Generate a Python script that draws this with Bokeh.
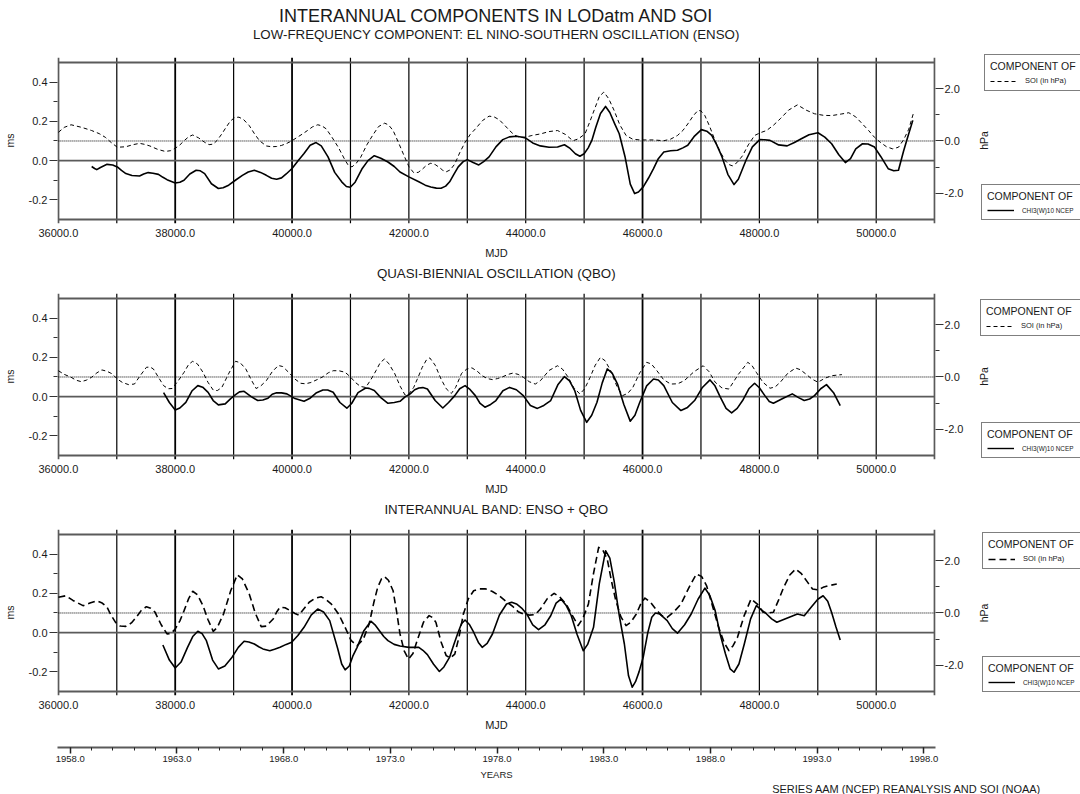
import math
from bokeh.plotting import figure
from bokeh.models import (Range1d, LinearAxis, FixedTicker, PrintfTickFormatter,
                          Label, Legend, LegendItem, ColumnDataSource, Title)
from bokeh.layouts import column, row
from bokeh.embed import file_html
from bokeh.resources import INLINE

FONT = "Liberation Sans"

# ---------------- data ----------------
# Panel 1 : ENSO component  (LOD in ms, SOI in hPa)
ENSO_LOD_MJD = [36570, 36620, 36657, 36720, 36833, 36930, 37009, 37080, 37155, 37260,
                37390, 37460, 37537, 37620, 37713, 37790, 37860, 38000, 38080, 38150,
                38250, 38358, 38430, 38504, 38620, 38739, 38820, 38915, 39030, 39150,
                39250, 39355, 39460, 39560, 39650, 39736, 39820, 39900, 40000, 40100,
                40205, 40310, 40411, 40500, 40616, 40730, 40850, 40930, 40997, 41080,
                41202, 41300, 41408, 41520, 41642, 41750, 41848, 42000, 42170, 42280,
                42375, 42470, 42551, 42630, 42698, 42770, 42845, 42930, 43000, 43100,
                43197, 43280, 43373, 43490, 43607, 43720, 43842, 43920, 44000, 44120,
                44250, 44400, 44545, 44610, 44663, 44760, 44850, 44927, 45000, 45070,
                45132, 45200, 45280, 45367, 45440, 45520, 45601, 45700, 45790, 45865,
                45930, 46012, 46100, 46188, 46270, 46364, 46480, 46598, 46690, 46774,
                46890, 47008, 47100, 47185, 47270, 47361, 47460, 47566, 47640, 47771,
                47880, 48006, 48090, 48182, 48330, 48475, 48600, 48710, 48850, 49003,
                49120, 49237, 49360, 49472, 49560, 49650, 49765, 49860, 49971, 50080,
                50205, 50300, 50381, 50470, 50550, 50627]
ENSO_LOD_MS = [-0.030, -0.040, -0.046, -0.035, -0.019, -0.022, -0.032, -0.050, -0.066, -0.076,
               -0.078, -0.068, -0.061, -0.064, -0.070, -0.085, -0.097, -0.114, -0.110, -0.100,
               -0.068, -0.049, -0.052, -0.066, -0.118, -0.142, -0.138, -0.125, -0.100, -0.075,
               -0.058, -0.049, -0.060, -0.075, -0.090, -0.095, -0.088, -0.068, -0.040, -0.002,
               0.036, 0.078, 0.092, 0.075, 0.019, -0.060, -0.108, -0.132, -0.136, -0.110,
               -0.040, 0.000, 0.025, 0.012, -0.007, -0.030, -0.058, -0.083, -0.108, -0.125,
               -0.134, -0.140, -0.141, -0.130, -0.108, -0.070, -0.032, -0.005, 0.005, -0.010,
               -0.022, -0.005, 0.019, 0.070, 0.107, 0.121, 0.124, 0.120, 0.115, 0.090,
               0.075, 0.068, 0.069, 0.076, 0.081, 0.062, 0.035, 0.022, 0.035, 0.065,
               0.103, 0.170, 0.240, 0.276, 0.245, 0.190, 0.137, 0.020, -0.120, -0.168,
               -0.160, -0.134, -0.090, -0.041, 0.010, 0.044, 0.050, 0.053, 0.065, 0.078,
               0.125, 0.158, 0.150, 0.129, 0.080, 0.019, -0.070, -0.122, -0.095, 0.002,
               0.070, 0.107, 0.106, 0.103, 0.080, 0.075, 0.092, 0.110, 0.132, 0.142,
               0.120, 0.086, 0.030, -0.010, 0.010, 0.060, 0.086, 0.085, 0.069, 0.020,
               -0.041, -0.052, -0.049, 0.050, 0.130, 0.205]
ENSO_SOI_MJD = [36000, 36100, 36217, 36400, 36569, 36700, 36804, 36900, 37009, 37155,
                37280, 37390, 37480, 37566, 37700, 37830, 37920, 38000, 38080, 38152,
                38230, 38299, 38400, 38504, 38580, 38651, 38720, 38798, 38870, 38944,
                39020, 39091, 39170, 39267, 39350, 39443, 39560, 39650, 39736, 39820,
                39912, 40000, 40088, 40180, 40264, 40350, 40440, 40510, 40587, 40690,
                40792, 40900, 40960, 41026, 41100, 41173, 41280, 41378, 41480, 41584,
                41650, 41730, 41820, 41906, 42000, 42082, 42160, 42229, 42300, 42375,
                42450, 42522, 42580, 42639, 42710, 42786, 42870, 42962, 43050, 43138,
                43260, 43373, 43460, 43548, 43640, 43724, 43810, 43900, 44000, 44106,
                44252, 44400, 44545, 44680, 44809, 44900, 45015, 45100, 45191, 45260,
                45337, 45420, 45513, 45610, 45718, 45830, 45953, 46188, 46364, 46480,
                46598, 46690, 46774, 46870, 46950, 47000, 47067, 47150, 47243, 47330,
                47419, 47480, 47537, 47620, 47713, 47810, 47918, 48020, 48123, 48240,
                48358, 48500, 48651, 48800, 48944, 49100, 49237, 49400, 49531, 49650,
                49765, 49870, 49971, 50070, 50176, 50280, 50381, 50470, 50557, 50637]
ENSO_SOI_HPA = [0.33, 0.52, 0.62, 0.52, 0.40, 0.28, 0.14, -0.05, -0.24, -0.22,
                -0.14, -0.09, -0.13, -0.19, -0.32, -0.40, -0.37, -0.28, -0.15, 0.01,
                0.16, 0.23, 0.12, -0.05, -0.14, -0.12, 0.03, 0.27, 0.52, 0.76,
                0.90, 0.91, 0.82, 0.59, 0.30, 0.01, -0.19, -0.22, -0.21, -0.17,
                -0.09, 0.01, 0.14, 0.27, 0.40, 0.54, 0.62, 0.58, 0.46, 0.12,
                -0.24, -0.70, -0.92, -0.99, -0.85, -0.63, -0.15, 0.21, 0.55, 0.68,
                0.62, 0.40, -0.05, -0.50, -0.98, -1.21, -1.20, -1.08, -0.93, -0.85,
                -0.90, -1.01, -1.12, -1.18, -1.10, -0.88, -0.45, -0.05, 0.25, 0.46,
                0.78, 0.95, 0.92, 0.81, 0.60, 0.40, 0.22, 0.14, 0.15, 0.21,
                0.27, 0.36, 0.40, 0.25, 0.01, 0.08, 0.27, 0.75, 1.29, 1.70,
                1.87, 1.62, 1.17, 0.62, 0.21, 0.07, 0.04, 0.04, 0.01, 0.07,
                0.21, 0.40, 0.65, 0.97, 1.17, 1.15, 0.97, 0.55, 0.01, -0.42,
                -0.76, -0.90, -0.95, -0.82, -0.56, -0.15, 0.21, 0.32, 0.40, 0.60,
                0.85, 1.18, 1.38, 1.18, 1.04, 0.98, 0.97, 1.03, 1.08, 0.92,
                0.65, 0.40, 0.14, -0.05, -0.22, -0.30, -0.24, 0.05, 0.45, 1.06]

# Panel 2 : QBO component
QBO_LOD_MJD = [37801, 37900, 38000, 38080, 38182, 38290, 38387, 38470, 38563, 38650,
               38739, 38856, 38950, 39033, 39100, 39179, 39300, 39413, 39500, 39589,
               39660, 39736, 39820, 39912, 40050, 40205, 40300, 40420, 40528, 40610,
               40704, 40820, 40938, 41020, 41130, 41261, 41320, 41408, 41520, 41642,
               41750, 41848, 41940, 42023, 42100, 42170, 42240, 42317, 42450, 42581,
               42680, 42786, 42870, 42962, 43050, 43138, 43220, 43302, 43400, 43490,
               43610, 43724, 43840, 43959, 44080, 44200, 44310, 44428, 44550, 44663,
               44750, 44839, 44940, 45044, 45130, 45220, 45310, 45396, 45480, 45572,
               45680, 45789, 45870, 45953, 46070, 46188, 46270, 46364, 46510, 46657,
               46770, 46891, 47020, 47155, 47240, 47331, 47430, 47525, 47620, 47713,
               47820, 47918, 48000, 48094, 48170, 48240, 48400, 48563, 48670, 48768,
               48860, 48944, 49050, 49149, 49270, 49384]
QBO_LOD_MS = [0.020, -0.030, -0.068, -0.058, -0.029, 0.030, 0.056, 0.048, 0.022, -0.020,
              -0.042, -0.037, -0.010, 0.010, 0.024, 0.027, 0.000, -0.020, -0.017, -0.008,
              0.012, 0.020, 0.019, 0.014, -0.010, -0.024, -0.010, 0.020, 0.034, 0.034,
              0.022, -0.030, -0.059, -0.035, 0.020, 0.044, 0.042, 0.031, -0.005, -0.034,
              -0.030, -0.024, 0.000, 0.014, 0.035, 0.044, 0.046, 0.039, -0.020, -0.058,
              -0.030, 0.005, 0.040, 0.056, 0.035, 0.005, -0.035, -0.054, -0.040, -0.020,
              0.030, 0.047, 0.035, 0.005, -0.045, -0.060, -0.045, -0.020, 0.060, 0.102,
              0.080, 0.031, -0.070, -0.131, -0.095, -0.029, 0.070, 0.141, 0.120, 0.064,
              -0.040, -0.125, -0.095, -0.029, 0.055, 0.090, 0.085, 0.056, -0.030, -0.071,
              -0.055, -0.020, 0.045, 0.085, 0.055, -0.003, -0.060, -0.083, -0.060, -0.020,
              0.040, 0.068, 0.045, 0.005, -0.025, -0.034, -0.010, 0.014, -0.005, -0.020,
              -0.012, 0.005, 0.040, 0.061, 0.020, -0.046]
QBO_SOI_MJD = [36000, 36100, 36217, 36300, 36393, 36480, 36569, 36660, 36745, 36830,
               36921, 37010, 37097, 37200, 37302, 37400, 37507, 37570, 37625, 37710,
               37801, 37880, 37947, 38050, 38152, 38230, 38299, 38380, 38475, 38560,
               38651, 38720, 38798, 38920, 39033, 39110, 39208, 39300, 39384, 39460,
               39560, 39660, 39765, 39840, 39941, 40050, 40147, 40230, 40323, 40430,
               40528, 40620, 40704, 40800, 40909, 41000, 41085, 41170, 41261, 41350,
               41437, 41510, 41584, 41660, 41760, 41850, 41935, 42000, 42082, 42160,
               42229, 42300, 42358, 42450, 42551, 42640, 42727, 42800, 42903, 42990,
               43079, 43170, 43255, 43340, 43431, 43520, 43607, 43700, 43783, 43870,
               43959, 44060, 44164, 44252, 44400, 44545, 44630, 44721, 44820, 44927,
               45010, 45103, 45190, 45279, 45360, 45455, 45560, 45660, 45750, 45836,
               45950, 46070, 46150, 46246, 46360, 46481, 46600, 46715, 46880, 47038,
               47140, 47243, 47360, 47478, 47640, 47801, 47870, 47947, 48060, 48182,
               48270, 48358, 48490, 48622, 48700, 48798, 48900, 49003, 49120, 49237,
               49413]
QBO_SOI_HPA = [0.24, 0.10, -0.01, -0.12, -0.18, -0.12, -0.01, 0.16, 0.27, 0.22,
               0.12, -0.08, -0.21, -0.29, -0.27, 0.05, 0.37, 0.38, 0.31, 0.00,
               -0.33, -0.45, -0.44, -0.15, 0.18, 0.48, 0.60, 0.50, 0.18, -0.20,
               -0.50, -0.52, -0.40, 0.15, 0.60, 0.55, 0.31, -0.10, -0.44, -0.35,
               -0.14, 0.20, 0.44, 0.40, 0.18, -0.08, -0.24, -0.26, -0.21, -0.10,
               0.01, 0.16, 0.24, 0.24, 0.18, 0.00, -0.21, -0.36, -0.40, -0.10,
               0.24, 0.55, 0.69, 0.50, 0.12, -0.35, -0.69, -0.65, -0.40, 0.00,
               0.37, 0.65, 0.73, 0.45, -0.08, -0.45, -0.63, -0.40, 0.14, 0.30,
               0.35, 0.22, 0.05, -0.06, -0.10, -0.06, 0.01, 0.10, 0.15, 0.10,
               -0.01, -0.18, -0.27, -0.14, 0.25, 0.43, 0.30, 0.01, -0.40, -0.65,
               -0.45, -0.01, 0.45, 0.75, 0.62, 0.24, -0.35, -0.71, -0.62, -0.39,
               0.15, 0.56, 0.50, 0.24, -0.10, -0.27, -0.26, -0.14, 0.20, 0.43,
               0.20, -0.20, -0.42, -0.46, 0.10, 0.56, 0.45, 0.18, -0.20, -0.43,
               -0.38, -0.20, 0.15, 0.34, 0.28, 0.11, -0.08, -0.20, -0.05, 0.05,
               0.09]

# Panel 3 : interannual band (ENSO + QBO)
BAND_LOD_MJD = [37789, 37900, 38000, 38100, 38211, 38300, 38387, 38460, 38534, 38640,
                38739, 38850, 38974, 39080, 39179, 39260, 39355, 39430, 39501, 39619,
                39700, 39795, 39900, 39994, 40100, 40205, 40330, 40440, 40540, 40645,
                40780, 40850, 40909, 40980, 41040, 41114, 41230, 41349, 41420, 41496,
                41570, 41642, 41748, 41848, 42000, 42100, 42170, 42240, 42317, 42420,
                42522, 42600, 42698, 42770, 42833, 42900, 42962, 43040, 43109, 43190,
                43255, 43340, 43431, 43550, 43672, 43760, 43842, 43930, 44018, 44120,
                44220, 44330, 44428, 44520, 44604, 44690, 44780, 44880, 44985, 45060,
                45161, 45260, 45367, 45440, 45513, 45600, 45689, 45760, 45824, 45880,
                45940, 46012, 46090, 46158, 46220, 46293, 46350, 46422, 46510, 46598,
                46720, 46833, 46950, 47067, 47150, 47243, 47330, 47419, 47500, 47566,
                47650, 47742, 47850, 47947, 48040, 48123, 48210, 48299, 48480, 48651,
                48768, 48886, 49000, 49091, 49170, 49237, 49310, 49384]
BAND_LOD_MS = [-0.063, -0.140, -0.180, -0.150, -0.075, -0.020, 0.007, -0.005, -0.041, -0.140,
               -0.185, -0.170, -0.125, -0.075, -0.044, -0.048, -0.058, -0.072, -0.083, -0.092,
               -0.085, -0.075, -0.060, -0.049, -0.015, 0.027, 0.090, 0.120, 0.105, 0.061,
               -0.080, -0.160, -0.190, -0.170, -0.120, -0.075, 0.010, 0.058, 0.040, 0.010,
               -0.020, -0.041, -0.060, -0.068, -0.075, -0.075, -0.075, -0.090, -0.112, -0.160,
               -0.198, -0.175, -0.125, -0.060, -0.007, 0.045, 0.064, 0.040, 0.002, -0.050,
               -0.075, -0.055, -0.007, 0.090, 0.146, 0.155, 0.146, 0.125, 0.095, 0.040,
               0.015, 0.040, 0.086, 0.150, 0.171, 0.140, 0.086, -0.010, -0.092, -0.060,
               0.027, 0.250, 0.417, 0.380, 0.264, 0.090, -0.058, -0.220, -0.278, -0.250,
               -0.200, -0.125, 0.000, 0.078, 0.100, 0.095, 0.080, 0.061, 0.020, -0.003,
               0.040, 0.095, 0.170, 0.227, 0.190, 0.112, -0.010, -0.108, -0.185, -0.202,
               -0.160, -0.058, 0.070, 0.137, 0.115, 0.095, 0.070, 0.053, 0.075, 0.095,
               0.086, 0.129, 0.170, 0.188, 0.160, 0.103, 0.030, -0.037]
BAND_SOI_MJD = [36000, 36129, 36250, 36422, 36540, 36657, 36750, 36833, 36900, 36979,
                37060, 37155, 37250, 37331, 37420, 37507, 37580, 37654, 37760, 37860,
                37930, 38000, 38080, 38152, 38230, 38299, 38380, 38475, 38560, 38651,
                38720, 38827, 38950, 39062, 39150, 39267, 39370, 39472, 39560, 39677,
                39740, 39795, 39880, 39970, 40050, 40117, 40200, 40293, 40400, 40498,
                40580, 40674, 40800, 40909, 41010, 41114, 41220, 41320, 41400, 41466,
                41530, 41584, 41650, 41730, 41790, 41848, 41920, 41994, 42070, 42141,
                42250, 42346, 42410, 42463, 42550, 42639, 42710, 42786, 42860, 42933,
                43020, 43109, 43200, 43314, 43430, 43548, 43660, 43783, 43870, 43959,
                44060, 44164, 44252, 44370, 44487, 44580, 44692, 44800, 44897, 44980,
                45073, 45160, 45249, 45320, 45396, 45470, 45543, 45630, 45718, 45800,
                45894, 45970, 46041, 46140, 46246, 46330, 46422, 46540, 46657, 46790,
                46921, 47010, 47097, 47200, 47302, 47400, 47478, 47550, 47625, 47740,
                47859, 47960, 48064, 48150, 48240, 48330, 48416, 48520, 48622, 48720,
                48827, 48910, 49003, 49090, 49179, 49325]
BAND_SOI_HPA = [0.60, 0.66, 0.48, 0.28, 0.38, 0.47, 0.38, 0.22, -0.08, -0.36,
                -0.50, -0.51, -0.38, -0.17, 0.10, 0.24, 0.18, 0.03, -0.45, -0.80,
                -0.78, -0.61, -0.30, 0.09, 0.55, 0.83, 0.70, 0.28, -0.25, -0.70,
                -0.55, -0.04, 0.85, 1.46, 1.30, 0.73, 0.00, -0.52, -0.50, -0.23,
                0.05, 0.22, 0.20, 0.09, -0.02, -0.08, 0.15, 0.41, 0.57, 0.62,
                0.52, 0.34, -0.05, -0.55, -1.05, -1.25, -1.00, -0.42, 0.40, 0.98,
                1.30, 1.39, 1.25, 0.85, 0.05, -0.80, -1.45, -1.76, -1.55, -1.06,
                -0.35, -0.10, -0.18, -0.36, -1.10, -1.63, -1.72, -1.57, -0.90, -0.04,
                0.55, 0.85, 0.92, 0.92, 0.82, 0.66, 0.45, 0.24, 0.05, -0.04,
                -0.08, -0.06, 0.15, 0.55, 0.75, 0.62, 0.34, -0.10, -0.48, -0.20,
                0.34, 1.50, 2.51, 2.40, 2.06, 1.20, 0.47, -0.15, -0.48, -0.35,
                -0.04, 0.35, 0.57, 0.40, 0.09, -0.10, -0.17, 0.05, 0.34, 0.95,
                1.49, 1.40, 1.04, 0.25, -0.55, -1.15, -1.44, -1.25, -0.93, -0.10,
                0.54, 0.35, 0.03, 0.00, 0.03, 0.50, 0.98, 1.45, 1.68, 1.50,
                1.17, 0.92, 0.88, 0.98, 1.04, 1.11]

# ---------------- axes / ticks ----------------
MJD_TICKS = [36000, 38000, 40000, 42000, 44000, 46000, 48000, 50000]
GRID_MJD = [37000, 38000, 39000, 40000, 41000, 42000, 43000, 44000, 45000,
            46000, 47000, 48000, 49000, 50000]
GRID_WIDTH = [1.2, 1.8, 1.2, 1.8, 1.2, 1.2, 1.2, 1.2, 1.2, 1.8, 1.2, 1.2, 1.2, 1.2]
FRAME_MJD = [36000, 51000]
MS_TICKS = [-0.2, 0.0, 0.2, 0.4]
MS_MINOR = [-0.1, 0.1, 0.3]
HPA_TICKS = [-2.0, 0.0, 2.0]
HPA_MINOR = [-1.0, 1.0]
YEAR_TICKS = [1958, 1963, 1968, 1973, 1978, 1983, 1988, 1993, 1998]
YEAR_MINOR = list(range(1958, 1999))

MS_TOP, MS_BOTTOM = 0.5, -0.3          # framed ms interval (= +3 / -3 hPa)
HPA_TOP, HPA_BOTTOM = 3.0, -3.0
X_LO, X_HI = 35985, 51015
Y_LO, Y_HI = -0.3204, 0.5254
MS_PER_HPA = (MS_TOP - MS_BOTTOM) / (HPA_TOP - HPA_BOTTOM)
MS_AT_HPA0 = MS_BOTTOM - HPA_BOTTOM * MS_PER_HPA
HPA_LO = (Y_LO - MS_AT_HPA0) / MS_PER_HPA
HPA_HI = (Y_HI - MS_AT_HPA0) / MS_PER_HPA

FW, FH = 878, 166
PW = 966            # width of each panel figure (frame + axes)
LW = 1080 - PW      # width of the legend strip at the right
TXT = "#1a1a1a"
GRAY = "#5a5a5a"


def blank(width, height):
    return figure(width=width, height=height, x_range=Range1d(0, 1), y_range=Range1d(0, 1),
                  min_border_left=0, min_border_right=0, min_border_top=0, min_border_bottom=0,
                  x_axis_type=None, y_axis_type=None, toolbar_location=None,
                  output_backend="svg", outline_line_color=None, frame_align=False,
                  background_fill_color="white", border_fill_color="white")


def title_strip(height, items):
    f = blank(1080, height)
    for text, size, cy in items:
        f.add_layout(Label(x=57 + FW / 2, y=height - cy, x_units="screen", y_units="screen",
                           text=text, text_align="center", text_baseline="middle",
                           text_font=FONT, text_font_size=size, text_color=TXT))
    return f


def make_panel(lod_x, lod_y, soi_x, soi_y, soi_dash, soi_w, top):
    p = figure(frame_width=FW, frame_height=FH,
               x_range=Range1d(X_LO, X_HI), y_range=Range1d(Y_LO, Y_HI),
               min_border_left=57, min_border_right=PW - 57 - FW,
               min_border_top=top, min_border_bottom=39,
               x_axis_type=None, y_axis_type=None,
               toolbar_location=None, output_backend="svg",
               outline_line_color=None, background_fill_color="white",
               border_fill_color="white")
    p.extra_y_ranges = {"hpa": Range1d(HPA_LO, HPA_HI)}

    gsrc = ColumnDataSource(dict(x=GRID_MJD, w=GRID_WIDTH))
    p.segment(x0="x", y0=Y_LO, x1="x", y1=Y_HI, source=gsrc,
              line_color="black", line_width="w")
    p.segment(x0=FRAME_MJD, y0=Y_LO, x1=FRAME_MJD, y1=Y_HI,
              line_color=GRAY, line_width=2)
    p.segment(x0=FRAME_MJD[0], y0=[MS_TOP, MS_BOTTOM], x1=FRAME_MJD[1],
              y1=[MS_TOP, MS_BOTTOM], line_color=GRAY, line_width=2)
    p.segment(x0=FRAME_MJD[0], y0=0.0, x1=FRAME_MJD[1], y1=0.0,
              line_color=GRAY, line_width=1.6)
    p.segment(x0=FRAME_MJD[0], y0=0.0, x1=FRAME_MJD[1], y1=0.0,
              line_color="black", line_width=1, line_dash="1 1",
              y_range_name="hpa")

    p.line(soi_x, soi_y, line_color="black", line_width=soi_w,
           line_dash=soi_dash, y_range_name="hpa", line_join="round")
    p.line(lod_x, lod_y, line_color="black", line_width=1.6, line_join="round")

    la = LinearAxis(ticker=FixedTicker(ticks=MS_TICKS, minor_ticks=MS_MINOR),
                    formatter=PrintfTickFormatter(format="%.1f"), axis_label="ms")
    ra = LinearAxis(y_range_name="hpa",
                    ticker=FixedTicker(ticks=HPA_TICKS, minor_ticks=HPA_MINOR),
                    formatter=PrintfTickFormatter(format="%.1f"))
    for ax, st in ((la, 2), (ra, 1)):
        ax.axis_line_color = None
        ax.major_tick_out = 8
        ax.major_tick_in = 0
        ax.minor_tick_out = 4
        ax.minor_tick_in = 0
        ax.major_tick_line_color = "#333333"
        ax.minor_tick_line_color = "#333333"
        ax.major_label_standoff = st
        ax.major_label_text_font = FONT
        ax.major_label_text_font_size = "11px"
        ax.major_label_text_color = TXT
    la.axis_label_standoff = 10
    la.axis_label_text_font = FONT
    la.axis_label_text_font_size = "10.5px"
    la.axis_label_text_font_style = "normal"
    la.axis_label_text_color = TXT
    p.add_layout(la, "left")
    p.add_layout(ra, "right")

    ba = LinearAxis(ticker=FixedTicker(ticks=MJD_TICKS),
                    formatter=PrintfTickFormatter(format="%.1f"), axis_label="MJD")
    ba.axis_line_color = None
    ba.major_tick_out = 0
    ba.major_tick_in = 0
    ba.minor_tick_out = 0
    ba.minor_tick_in = 0
    ba.major_tick_line_color = None
    ba.minor_tick_line_color = None
    ba.major_label_standoff = 5
    ba.major_label_text_font = FONT
    ba.major_label_text_font_size = "11px"
    ba.major_label_text_color = TXT
    ba.axis_label_standoff = 7
    ba.axis_label_text_font = FONT
    ba.axis_label_text_font_size = "11px"
    ba.axis_label_text_font_style = "normal"
    ba.axis_label_text_color = TXT
    p.add_layout(ba, "below")
    return p


def legend_strip(height, soi_dash, soi_w, loc_soi, loc_lod, hpa_y):
    f = blank(LW, height)
    # one-point lines outside the strip's view: they only supply the legend glyph style
    soi_r = f.line(x=[-1], y=[-1], line_color="black", line_width=soi_w, line_dash=soi_dash)
    lod_r = f.line(x=[-1], y=[-1], line_color="black", line_width=1.4)
    for (vx, vy), lab, rend, lsize in ((loc_soi, "SOI (in hPa)", soi_r, "7.5px"),
                                       (loc_lod, "CHI3(W)10 NCEP", lod_r, "6.4px")):
        lg = Legend(items=[LegendItem(label=lab, renderers=[rend])],
                    title="COMPONENT OF", location=(vx, vy),
                    border_line_color="black", border_line_width=1,
                    background_fill_color="white", background_fill_alpha=1.0,
                    padding=5, margin=0, spacing=0,
                    title_standoff=4, title_text_font=FONT,
                    title_text_font_size="10.5px", title_text_color=TXT,
                    title_text_font_style="normal",
                    label_text_font=FONT, label_text_font_size=lsize,
                    label_text_color=TXT, label_standoff=8, label_height=8,
                    glyph_width=27, glyph_height=8, label_width=110)
        f.add_layout(lg)
    f.add_layout(Label(x=983 - PW, y=hpa_y, x_units="screen", y_units="screen",
                       text="hPa", angle=math.pi / 2, text_align="center",
                       text_baseline="middle", text_font=FONT,
                       text_font_size="10.5px", text_color=TXT))
    return f


t1 = title_strip(54, [("INTERANNUAL COMPONENTS IN LODatm AND SOI", "18px", 15),
                      ("LOW-FREQUENCY COMPONENT: EL NINO-SOUTHERN OSCILLATION (ENSO)", "13.3px", 34.3)])
p1 = make_panel(ENSO_LOD_MJD, ENSO_LOD_MS, ENSO_SOI_MJD, ENSO_SOI_HPA, "4 3", 1.0, 3)
l1 = legend_strip(208, "4 3", 1.0, (18, 171), (15, 42), 122)

t2 = title_strip(31, [("QUASI-BIENNIAL OSCILLATION (QBO)", "13.3px", 11)])
p2 = make_panel(QBO_LOD_MJD, QBO_LOD_MS, QBO_SOI_MJD, QBO_SOI_HPA, "4 3", 1.0, 0)
l2 = legend_strip(205, "4 3", 1.0, (14, 162), (15, 40), 122)

t3 = title_strip(31, [("INTERANNUAL BAND: ENSO + QBO", "13.3px", 11)])
p3 = make_panel(BAND_LOD_MJD, BAND_LOD_MS, BAND_SOI_MJD, BAND_SOI_HPA, "7 4", 1.6, 0)
l3 = legend_strip(205, "7 4", 1.6, (16, 165), (16, 42), 121.5)


def mjd_to_year(m):
    return 1958.0 + (m - 36204) / 365.25


p4 = figure(frame_width=FW, frame_height=13,
            x_range=Range1d(mjd_to_year(X_LO), mjd_to_year(X_HI)), y_range=Range1d(0, 1),
            min_border_left=57, min_border_right=1080 - 57 - FW, min_border_top=0,
            min_border_bottom=47, frame_align=False,
            x_axis_type=None, y_axis_type=None, toolbar_location=None,
            output_backend="svg", outline_line_color=None,
            background_fill_color="white", border_fill_color="white")
ya = LinearAxis(ticker=FixedTicker(ticks=YEAR_TICKS, minor_ticks=YEAR_MINOR),
                formatter=PrintfTickFormatter(format="%.1f"), axis_label="YEARS")
ya.axis_line_color = GRAY
ya.axis_line_width = 2
ya.major_tick_out = 6
ya.major_tick_in = 0
ya.minor_tick_out = 3
ya.minor_tick_in = 0
ya.major_tick_line_color = "#222222"
ya.minor_tick_line_color = "#222222"
ya.major_tick_line_width = 1.5
ya.major_label_standoff = 2
ya.major_label_text_font = FONT
ya.major_label_text_font_size = "9.5px"
ya.major_label_text_color = TXT
ya.axis_label_standoff = 4
ya.axis_label_text_font = FONT
ya.axis_label_text_font_size = "9.5px"
ya.axis_label_text_font_style = "normal"
ya.axis_label_text_color = TXT
p4.add_layout(ya, "below")
p4.add_layout(Title(text="SERIES AAM (NCEP) REANALYSIS AND SOI (NOAA)", align="right",
                    offset=-106, standoff=0, vertical_align="top",
                    text_font=FONT, text_font_size="11px", text_font_style="normal",
                    text_color=TXT), "below")

layout = column(t1, row(p1, l1, spacing=0), t2, row(p2, l2, spacing=0),
                t3, row(p3, l3, spacing=0), p4, spacing=0)
open("out.html", "w").write(file_html(layout, INLINE))
